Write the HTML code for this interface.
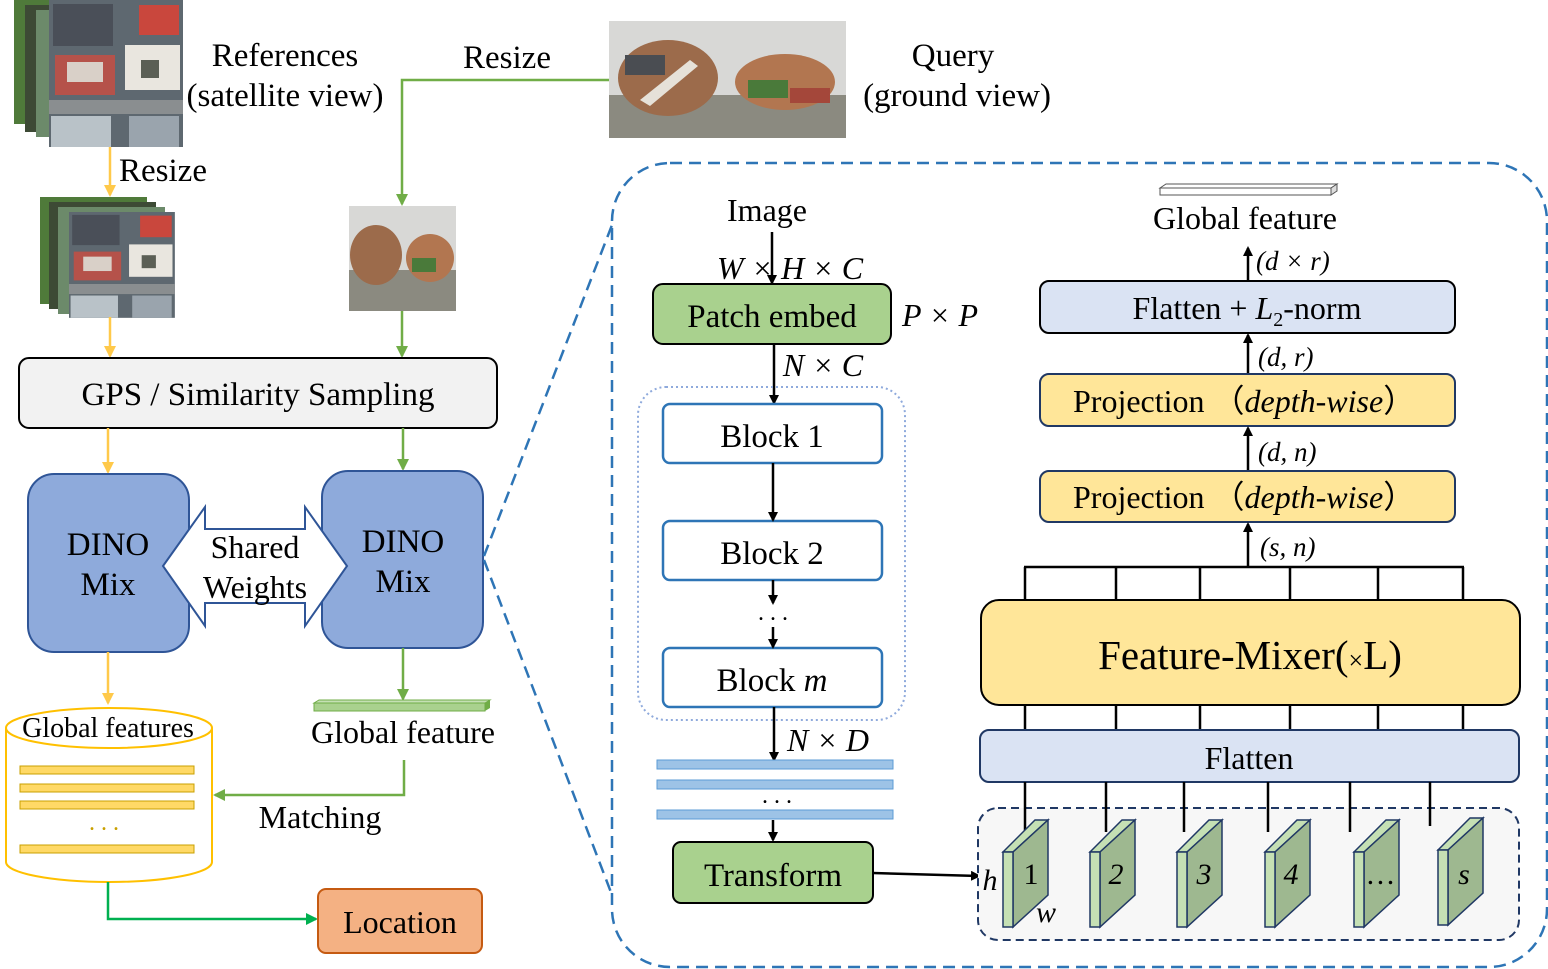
<!DOCTYPE html>
<html><head><meta charset="utf-8"><style>
html,body{margin:0;padding:0;background:#fff;}
svg{display:block;}
text{font-family:"Liberation Serif",serif;fill:#000;}
</style></head><body>
<svg width="1548" height="969" viewBox="0 0 1548 969" xmlns="http://www.w3.org/2000/svg">
<defs>
<marker id="ak" markerWidth="10" markerHeight="10" refX="8" refY="5" orient="auto" markerUnits="userSpaceOnUse"><path d="M0,0 L10,5 L0,10 z" fill="#000"/></marker>
<marker id="ay" markerWidth="12" markerHeight="12" refX="10" refY="6" orient="auto" markerUnits="userSpaceOnUse"><path d="M0,0 L12,6 L0,12 z" fill="#ffc94a"/></marker>
<marker id="ag" markerWidth="12" markerHeight="12" refX="10" refY="6" orient="auto" markerUnits="userSpaceOnUse"><path d="M0,0 L12,6 L0,12 z" fill="#70ad47"/></marker>
<marker id="ag2" markerWidth="12" markerHeight="12" refX="10" refY="6" orient="auto" markerUnits="userSpaceOnUse"><path d="M0,0 L12,6 L0,12 z" fill="#00b050"/></marker>
<g id="sat">
<rect x="0" y="0" width="134" height="147" fill="#5e6870"/>
<rect x="4" y="4" width="60" height="42" fill="#4a4f58"/>
<rect x="6" y="55" width="60" height="40" fill="#b5524a"/>
<rect x="18" y="62" width="36" height="20" fill="#d9d0c8"/>
<rect x="76" y="45" width="55" height="45" fill="#e9e6df"/>
<rect x="92" y="60" width="18" height="18" fill="#5b5f55"/>
<rect x="90" y="5" width="40" height="30" fill="#c9473d"/>
<rect x="0" y="100" width="134" height="14" fill="#8a8e90"/>
<rect x="2" y="116" width="60" height="31" fill="#b9c2c8"/>
<rect x="80" y="116" width="50" height="31" fill="#9aa4ad"/>
</g>
</defs>

<rect x="14" y="0" width="136" height="124" fill="#4f7a3a"/>
<rect x="25" y="5" width="136" height="127" fill="#3d4a35"/>
<rect x="36" y="10" width="136" height="127" fill="#6c8a6a"/>
<use href="#sat" x="49" y="0"/>
<rect x="40" y="197" width="107" height="107" fill="#4f7a3a"/>
<rect x="49" y="202" width="107" height="107" fill="#3d4a35"/>
<rect x="58" y="207" width="107" height="107" fill="#6c8a6a"/>
<g transform="translate(69,212) scale(0.79,0.72)"><use href="#sat"/></g>

<text x="285" y="66" font-size="33" text-anchor="middle">References</text>
<text x="285" y="106" font-size="33" text-anchor="middle">(satellite view)</text>
<text x="119" y="181" font-size="33">Resize</text>
<text x="507" y="68" font-size="33" text-anchor="middle">Resize</text>
<text x="953" y="66" font-size="33" text-anchor="middle">Query</text>
<text x="957" y="106" font-size="33" text-anchor="middle">(ground view)</text>

<rect x="609" y="21" width="237" height="117" fill="#d8d8d6"/>
<rect x="609" y="95" width="237" height="43" fill="#8b8a80"/>
<ellipse cx="668" cy="78" rx="50" ry="38" fill="#9c6b4b"/>
<rect x="625" y="55" width="40" height="20" fill="#4a4d52"/>
<path d="M640,100 L690,60 L698,66 L650,106 z" fill="#e6e1d8"/>
<ellipse cx="785" cy="82" rx="50" ry="28" fill="#b27650"/>
<rect x="748" y="80" width="40" height="18" fill="#4a7a3a"/>
<rect x="790" y="88" width="40" height="15" fill="#a4473a"/>
<rect x="349" y="206" width="107" height="105" fill="#d8d8d6"/>
<rect x="349" y="270" width="107" height="41" fill="#8b8a80"/>
<ellipse cx="376" cy="255" rx="26" ry="30" fill="#9c6b4b"/>
<ellipse cx="430" cy="258" rx="24" ry="24" fill="#b27650"/>
<rect x="412" y="258" width="24" height="14" fill="#4a7a3a"/>

<line x1="110" y1="147" x2="110" y2="195" stroke="#ffc94a" stroke-width="2.5" marker-end="url(#ay)"/>
<line x1="110" y1="317" x2="110" y2="356" stroke="#ffc94a" stroke-width="2.5" marker-end="url(#ay)"/>
<polyline points="609,80 402,80 402,204" fill="none" stroke="#70ad47" stroke-width="2.5" marker-end="url(#ag)"/>
<line x1="402" y1="311" x2="402" y2="356" stroke="#70ad47" stroke-width="2.5" marker-end="url(#ag)"/>

<rect x="19" y="358" width="478" height="70" rx="10" fill="#f2f2f2" stroke="#000" stroke-width="2"/>
<text x="258" y="405" font-size="33" text-anchor="middle">GPS / Similarity Sampling</text>

<line x1="108" y1="428" x2="108" y2="472" stroke="#ffc94a" stroke-width="2.5" marker-end="url(#ay)"/>
<line x1="403" y1="428" x2="403" y2="469" stroke="#70ad47" stroke-width="2.5" marker-end="url(#ag)"/>

<rect x="28" y="474" width="161" height="178" rx="26" fill="#8eaadb" stroke="#2f5597" stroke-width="2"/>
<rect x="322" y="471" width="161" height="177" rx="26" fill="#8eaadb" stroke="#2f5597" stroke-width="2"/>
<text x="108" y="555" font-size="33" text-anchor="middle">DINO</text>
<text x="108" y="595" font-size="33" text-anchor="middle">Mix</text>
<text x="403" y="552" font-size="33" text-anchor="middle">DINO</text>
<text x="403" y="592" font-size="33" text-anchor="middle">Mix</text>
<path d="M163,566 L205,507 L205,529 L305,529 L305,507 L347,566 L305,626 L305,603 L205,603 L205,626 z" fill="#fff" stroke="#2f5597" stroke-width="2"/>
<text x="255" y="558" font-size="32" text-anchor="middle">Shared</text>
<text x="255" y="598" font-size="32" text-anchor="middle">Weights</text>

<line x1="108" y1="652" x2="108" y2="703" stroke="#ffc94a" stroke-width="2.5" marker-end="url(#ay)"/>
<line x1="403" y1="648" x2="403" y2="699" stroke="#70ad47" stroke-width="2.5" marker-end="url(#ag)"/>

<path d="M314,703 L319,700 L490,700 L485,703 z" fill="#c5e0b4" stroke="#70ad47"/>
<rect x="314" y="703" width="171" height="8" fill="#a9d18e" stroke="#70ad47"/>
<path d="M485,703 L490,700 L490,708 L485,711 z" fill="#70ad47"/>
<text x="403" y="743" font-size="32" text-anchor="middle">Global feature</text>

<path d="M6,728 L6,862 A103,20 0 0 0 212,862 L212,728" fill="#fff" stroke="#ffc000" stroke-width="2"/>
<ellipse cx="109" cy="728" rx="103" ry="20" fill="#fff" stroke="#ffc000" stroke-width="2"/>
<text x="108" y="737" font-size="28" text-anchor="middle">Global features</text>
<g fill="#ffd966" stroke="#c9a000" stroke-width="1">
<rect x="20" y="766" width="174" height="8"/><rect x="20" y="784" width="174" height="8"/><rect x="20" y="801" width="174" height="8"/><rect x="20" y="845" width="174" height="8"/>
</g>
<text x="104" y="830" font-size="24" text-anchor="middle" style="fill:#c9a000">. . .</text>

<polyline points="404,760 404,795 215,795" fill="none" stroke="#70ad47" stroke-width="2.5" marker-end="url(#ag)"/>
<text x="320" y="828" font-size="32" text-anchor="middle">Matching</text>
<polyline points="108,882 108,919 316,919" fill="none" stroke="#00b050" stroke-width="2.5" marker-end="url(#ag2)"/>
<rect x="318" y="889" width="164" height="64" rx="8" fill="#f4b183" stroke="#c55a11" stroke-width="2"/>
<text x="400" y="933" font-size="32" text-anchor="middle">Location</text>

<rect x="612" y="163" width="935" height="804" rx="58" fill="none" stroke="#2e75b6" stroke-width="2.5" stroke-dasharray="12,7"/>
<line x1="484" y1="556" x2="612" y2="225" stroke="#2e75b6" stroke-width="2.5" stroke-dasharray="12,7"/>
<line x1="484" y1="560" x2="612" y2="895" stroke="#2e75b6" stroke-width="2.5" stroke-dasharray="12,7"/>

<text x="767" y="221" font-size="32" text-anchor="middle">Image</text>
<line x1="772" y1="232" x2="772" y2="283" stroke="#000" stroke-width="2.5" marker-end="url(#ak)"/>
<text x="790" y="279" font-size="32" text-anchor="middle" font-style="italic">W × H  × C</text>
<rect x="653" y="284" width="238" height="60" rx="10" fill="#a9d18e" stroke="#000" stroke-width="2"/>
<text x="772" y="327" font-size="33" text-anchor="middle">Patch embed</text>
<text x="940" y="326" font-size="32" text-anchor="middle" font-style="italic">P × P</text>
<line x1="774" y1="344" x2="774" y2="403" stroke="#000" stroke-width="2.5" marker-end="url(#ak)"/>
<text x="823" y="376" font-size="32" text-anchor="middle" font-style="italic">N × C</text>

<rect x="638" y="387" width="267" height="333" rx="28" fill="none" stroke="#8faadc" stroke-width="2" stroke-dasharray="2,3"/>
<g fill="#fff" stroke="#2e75b6" stroke-width="2.5">
<rect x="663" y="404" width="219" height="59" rx="7"/>
<rect x="663" y="521" width="219" height="59" rx="7"/>
<rect x="663" y="648" width="219" height="59" rx="7"/>
</g>
<text x="772" y="447" font-size="33" text-anchor="middle">Block 1</text>
<text x="772" y="564" font-size="33" text-anchor="middle">Block 2</text>
<text x="772" y="691" font-size="33" text-anchor="middle">Block <tspan font-style="italic">m</tspan></text>
<line x1="773" y1="463" x2="773" y2="520" stroke="#000" stroke-width="2.5" marker-end="url(#ak)"/>
<line x1="773" y1="580" x2="773" y2="603" stroke="#000" stroke-width="2.5" marker-end="url(#ak)"/>
<text x="773" y="620" font-size="24" text-anchor="middle">. . .</text>
<line x1="773" y1="627" x2="773" y2="647" stroke="#000" stroke-width="2.5" marker-end="url(#ak)"/>
<line x1="774" y1="707" x2="774" y2="760" stroke="#000" stroke-width="2.5" marker-end="url(#ak)"/>
<text x="828" y="751" font-size="32" text-anchor="middle" font-style="italic">N × D</text>
<g fill="#9dc3e6" stroke="#5b9bd5" stroke-width="1">
<rect x="657" y="760" width="236" height="9"/><rect x="657" y="780" width="236" height="9"/><rect x="657" y="810" width="236" height="9"/>
</g>
<text x="777" y="803" font-size="24" text-anchor="middle">. . .</text>
<line x1="773" y1="820" x2="773" y2="840" stroke="#000" stroke-width="2.5" marker-end="url(#ak)"/>
<rect x="673" y="842" width="200" height="61" rx="8" fill="#a9d18e" stroke="#000" stroke-width="2"/>
<text x="773" y="886" font-size="33" text-anchor="middle">Transform</text>
<line x1="873" y1="873" x2="979" y2="876" stroke="#000" stroke-width="2.5" marker-end="url(#ak)"/>

<path d="M1160,188 L1166,184 L1337,184 L1331,188 z" fill="#fff" stroke="#555"/>
<rect x="1160" y="188" width="171" height="7" fill="#fff" stroke="#555"/>
<path d="M1331,188 L1337,184 L1337,191 L1331,195 z" fill="#ddd" stroke="#555"/>
<text x="1245" y="229" font-size="32" text-anchor="middle">Global feature</text>
<line x1="1248" y1="280" x2="1248" y2="248" stroke="#000" stroke-width="2.5" marker-end="url(#ak)"/>
<text x="1256" y="270" font-size="27" font-style="italic">(d × r)</text>
<rect x="1040" y="281" width="415" height="52" rx="9" fill="#dae3f3" stroke="#000" stroke-width="2"/>
<text x="1247" y="319" font-size="32" text-anchor="middle">Flatten + <tspan font-style="italic">L</tspan><tspan font-size="20" dy="7">2</tspan><tspan dy="-7">-norm</tspan></text>
<line x1="1248" y1="373" x2="1248" y2="335" stroke="#000" stroke-width="2.5" marker-end="url(#ak)"/>
<text x="1258" y="366" font-size="27" font-style="italic">(d, r)</text>
<rect x="1040" y="374" width="415" height="52" rx="9" fill="#ffe699" stroke="#203864" stroke-width="2"/>
<text x="1073" y="412" font-size="32">Projection （<tspan font-style="italic">depth-wise</tspan>）</text>
<line x1="1248" y1="470" x2="1248" y2="428" stroke="#000" stroke-width="2.5" marker-end="url(#ak)"/>
<text x="1258" y="461" font-size="27" font-style="italic">(d, n)</text>
<rect x="1040" y="471" width="415" height="51" rx="9" fill="#ffe699" stroke="#203864" stroke-width="2"/>
<text x="1073" y="508" font-size="32">Projection （<tspan font-style="italic">depth-wise</tspan>）</text>
<line x1="1248" y1="566" x2="1248" y2="524" stroke="#000" stroke-width="2.5" marker-end="url(#ak)"/>
<text x="1260" y="556" font-size="27" font-style="italic">(s, n)</text>

<g stroke="#000" stroke-width="2.5">
<line x1="1024" y1="567" x2="1464" y2="567"/>
<line x1="1025" y1="567" x2="1025" y2="600"/><line x1="1116" y1="567" x2="1116" y2="600"/><line x1="1200" y1="567" x2="1200" y2="600"/><line x1="1290" y1="567" x2="1290" y2="600"/><line x1="1378" y1="567" x2="1378" y2="600"/><line x1="1463" y1="567" x2="1463" y2="600"/>
<line x1="1025" y1="705" x2="1025" y2="730"/><line x1="1116" y1="705" x2="1116" y2="730"/><line x1="1200" y1="705" x2="1200" y2="730"/><line x1="1290" y1="705" x2="1290" y2="730"/><line x1="1378" y1="705" x2="1378" y2="730"/><line x1="1463" y1="705" x2="1463" y2="730"/>
</g>
<rect x="981" y="600" width="539" height="105" rx="18" fill="#ffe699" stroke="#000" stroke-width="2"/>
<text x="1250" y="669" font-size="41" text-anchor="middle">Feature-Mixer(<tspan font-size="26">×</tspan>L)</text>
<rect x="980" y="730" width="539" height="52" rx="9" fill="#dae3f3" stroke="#203864" stroke-width="2"/>
<text x="1249" y="769" font-size="32" text-anchor="middle">Flatten</text>

<rect x="978" y="808" width="541" height="132" rx="20" fill="#f7f7f7" stroke="#203864" stroke-width="2" stroke-dasharray="8,5"/>
<g stroke="#000" stroke-width="2.5">
<line x1="1025" y1="782" x2="1025" y2="832"/><line x1="1106" y1="782" x2="1106" y2="832"/><line x1="1184" y1="782" x2="1184" y2="832"/><line x1="1268" y1="782" x2="1268" y2="832"/><line x1="1350" y1="782" x2="1350" y2="832"/><line x1="1430" y1="782" x2="1430" y2="826"/>
</g>
<g id="fm" stroke="#203864" stroke-width="1.5">
<path d="M1003,852 L1035,820 L1048,820 L1013,852 z" fill="#c5e0b4"/>
<path d="M1013,852 L1048,820 L1048,895 L1013,927 z" fill="#9eb890"/>
<rect x="1003" y="852" width="10" height="75" fill="#c5e0b4"/>
</g>
<use href="#fm" x="87"/><use href="#fm" x="174"/><use href="#fm" x="262"/><use href="#fm" x="351"/><use href="#fm" x="435" y="-2"/>
<g font-size="30" font-style="italic" text-anchor="middle">
<text x="1031" y="884" font-style="normal">1</text><text x="1116" y="884">2</text><text x="1204" y="884">3</text><text x="1291" y="884">4</text><text x="1381" y="884">…</text><text x="1464" y="884">s</text>
<text x="990" y="890">h</text><text x="1046" y="922">w</text>
</g>
</svg>
</body></html>
